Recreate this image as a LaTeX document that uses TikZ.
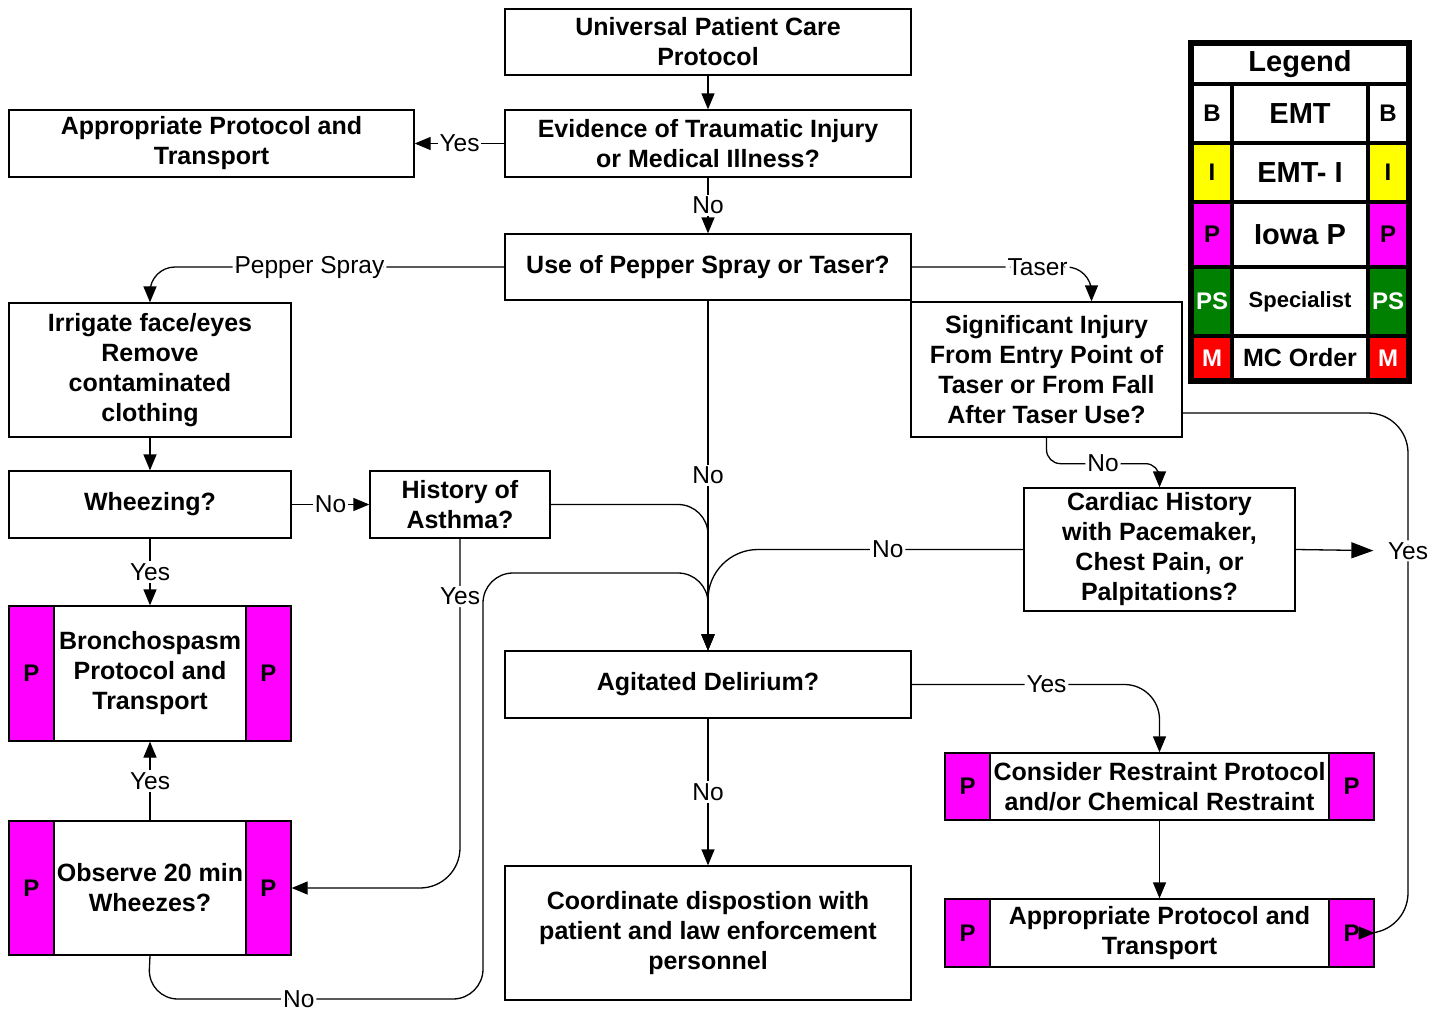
\documentclass[tikz,border=0pt]{standalone}
\usepackage{fontspec}
\setmainfont{Liberation Sans}
\usetikzlibrary{arrows.meta}
\definecolor{pgreen}{RGB}{0,128,0}
\definecolor{pmag}{RGB}{255,0,255}
\definecolor{pyel}{RGB}{255,255,0}
\definecolor{pred}{RGB}{255,0,0}
\begin{document}
\begin{tikzpicture}[x=1pt,y=-1pt,
  box/.style={draw, line width=1.3pt, fill=white, align=center, font=\fontsize{25}{30}\selectfont\bfseries, inner sep=0pt},
  lab/.style={fill=white, inner sep=2pt, font=\fontsize{24.5}{26}\selectfont},
  arr/.style={line width=1.3pt, -{Triangle[length=16pt,width=13pt]}},
  bigarr/.style={line width=1.3pt, -{Triangle[length=22pt,width=16pt]}},
  pb/.style={draw, line width=1.3pt, fill=pmag, font=\fontsize{24}{30}\selectfont\bfseries, minimum width=45pt, inner sep=0pt},
  lg/.style={draw, line width=3.5pt, inner sep=0pt, font=\fontsize{29}{30}\selectfont\bfseries},
  lgs/.style={lg, minimum width=40pt, font=\fontsize{24}{26}\selectfont\bfseries},
]
\useasboundingbox (0,0) rectangle (1438,1009);
\fill[white] (0,0) rectangle (1438,1009);

% boxes
\node[box, minimum width=406, minimum height=66] (upc) at (708,42) {Universal Patient Care\\Protocol};
\node[box, minimum width=406, minimum height=67] (evid) at (708,143.5) {Evidence of Traumatic Injury\\or Medical Illness?};
\node[box, minimum width=405, minimum height=67] (app1) at (211.5,143.5) {Appropriate Protocol and\\Transport};
\node[box, minimum width=406, minimum height=66] (pep) at (708,267) {Use of Pepper Spray or Taser?};
\node[box, minimum width=282, minimum height=134] (irr) at (150,370) {Irrigate face/eyes\\Remove\\contaminated\\clothing};
\node[box, minimum width=271, minimum height=135] (sig) at (1046.5,369.5) {Significant Injury\\From Entry Point of\\Taser or From Fall\\After Taser Use?};
\node[box, minimum width=282, minimum height=67] (wh) at (150,504.5) {Wheezing?};
\node[box, minimum width=180, minimum height=67] (hist) at (460,504.5) {History of\\Asthma?};
\node[box, minimum width=271, minimum height=123] (card) at (1159.5,549.5) {Cardiac History\\with Pacemaker,\\Chest Pain, or\\Palpitations?};
\node[box, minimum width=282, minimum height=135] (bron) at (150,673.5) {Bronchospasm\\Protocol and\\Transport};
\node[pb, minimum height=135, anchor=west] (bronL) at (bron.west) {P};
\node[pb, minimum height=135, anchor=east] (bronR) at (bron.east) {P};
\node[box, minimum width=406, minimum height=67] (agit) at (708,684.5) {Agitated Delirium?};
\node[box, minimum width=429, minimum height=67] (cons) at (1159.5,786.5) {Consider Restraint Protocol\\and/or Chemical Restraint};
\node[pb, minimum height=67, anchor=west] (consL) at (cons.west) {P};
\node[pb, minimum height=67, anchor=east] (consR) at (cons.east) {P};
\node[box, minimum width=282, minimum height=134] (obs) at (150,888) {Observe 20 min\\Wheezes?};
\node[pb, minimum height=134, anchor=west] (obsL) at (obs.west) {P};
\node[pb, minimum height=134, anchor=east] (obsR) at (obs.east) {P};
\node[box, minimum width=406, minimum height=134] (coord) at (708,933) {Coordinate dispostion with\\patient and law enforcement\\personnel};
\node[box, minimum width=429, minimum height=68] (app2) at (1159.5,933) {Appropriate Protocol and\\Transport};
\node[pb, minimum height=68, anchor=west] (app2L) at (app2.west) {P};
\node[pb, minimum height=68, anchor=east] (app2R) at (app2.east) {P};

% waypoints
\coordinate (lpA) at (148,999);
\coordinate (lpB) at (483,999);
\coordinate (lpC) at (483,573);
\coordinate (lpD) at (708,573);
\coordinate (rtop) at (1408,413);
\coordinate (rbot) at (1408,933);

% connectors
\draw[arr] (upc.south) -- (evid.north);
\draw[arr] (evid.west) -- (app1.east) node[lab,pos=0.5]{Yes};
\draw[arr] (evid.south) -- (pep.north) node[lab,pos=0.5]{No};
\draw[arr, rounded corners=25] (pep.west) -| (irr.north) node[lab,pos=0.275]{Pepper Spray};
\draw[arr, rounded corners=25] (pep.east) -| ([xshift=45pt]sig.north) node[lab,pos=0.35]{Taser};
\draw[arr] (pep.south) -- (agit.north) node[lab,pos=0.5]{No};
\draw[arr] (irr.south) -- (wh.north);
\draw[arr] (wh.east) -- (hist.west) node[lab,pos=0.5]{No};
\draw[arr] (wh.south) -- (bron.north) node[lab,pos=0.5]{Yes};
\draw[arr, rounded corners=30] (hist.east) -| (agit.north);
\draw[arr, rounded corners=40] (hist.south) |- (obs.east) node[lab,pos=0.083]{Yes};
\draw[arr] (obs.north) -- (bron.south) node[lab,pos=0.5]{Yes};
\draw[arr, rounded corners=30] (obs.south) -- (lpA) -- (lpB) node[lab,pos=0.45]{No} -- (lpC) -- (lpD) -- (agit.north);
\draw[arr, rounded corners=14] (sig.south) -- ++(0,26) -| (card.north) node[lab,pos=0.25]{No};
\draw[arr, rounded corners=40] (sig.east |- rtop) -- (rtop) -- (rbot) node[lab,pos=0.265] (yesR) {Yes} -- (app2.east);
\draw[bigarr, shorten >=12pt] (card.east) -- (yesR.west);
\draw[arr, rounded corners=50] (card.west) -| (agit.north) node[lab,pos=0.215]{No};
\draw[arr, rounded corners=35] (agit.east) -| (cons.north) node[lab,pos=0.272]{Yes};
\draw[arr] (agit.south) -- (coord.north) node[lab,pos=0.5]{No};
\draw[arr] (cons.south) -- (app2.north);

% legend
\node[lg, minimum width=216, minimum height=40] (lgt) at (1300,64) {Legend};
\node[lgs, minimum height=59, fill=white] (lb1) at (1212,113.5) {B};
\node[lg, minimum width=136, minimum height=59, fill=white] (lbm) at (1300,113.5) {EMT};
\node[lgs, minimum height=59, fill=white] (lb2) at (1388,113.5) {B};
\node[lgs, minimum height=59, fill=pyel] (li1) at (1212,172.5) {I};
\node[lg, minimum width=136, minimum height=59, fill=white] (lim) at (1300,172.5) {EMT- I};
\node[lgs, minimum height=59, fill=pyel] (li2) at (1388,172.5) {I};
\node[lgs, minimum height=65, fill=pmag] (lp1) at (1212,234.5) {P};
\node[lg, minimum width=136, minimum height=65, fill=white] (lpm) at (1300,234.5) {Iowa P};
\node[lgs, minimum height=65, fill=pmag] (lp2) at (1388,234.5) {P};
\node[lgs, minimum height=69, fill=pgreen, text=white] (ls1) at (1212,301.5) {PS};
\node[lg, minimum width=136, minimum height=69, fill=white, font=\fontsize{22}{24}\selectfont\bfseries] (lsm) at (1300,301.5) {Specialist};
\node[lgs, minimum height=69, fill=pgreen, text=white] (ls2) at (1388,301.5) {PS};
\node[lgs, minimum height=44, fill=pred, text=white] (lm1) at (1212,358) {M};
\node[lg, minimum width=136, minimum height=44, fill=white, font=\fontsize{25}{26}\selectfont\bfseries] (lmm) at (1300,358) {MC Order};
\node[lgs, minimum height=44, fill=pred, text=white] (lm2) at (1388,358) {M};
\draw[line width=4pt] (lgt.north west) rectangle (lm2.south east);
\end{tikzpicture}
\end{document}
